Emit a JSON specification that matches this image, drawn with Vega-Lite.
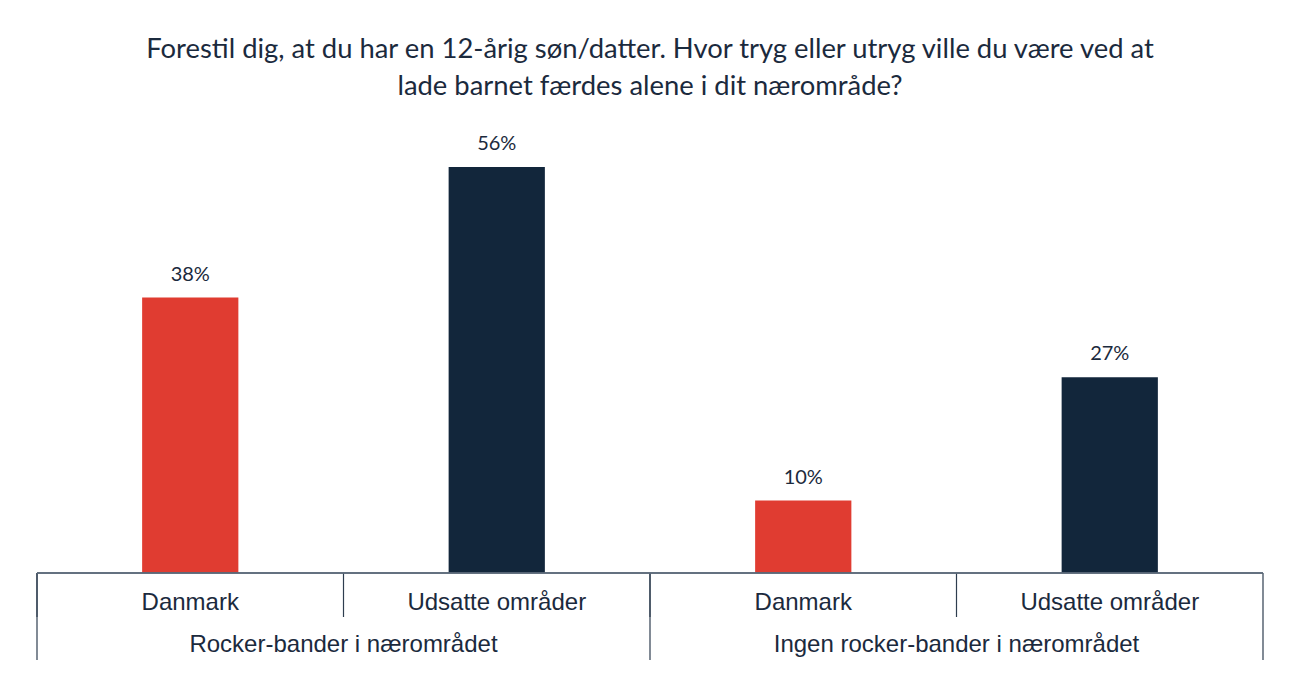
{
  "$schema": "https://vega.github.io/schema/vega-lite/v6.json",
  "autosize": "none",
  "width": 1226,
  "height": 522,
  "padding": {"left": 37, "top": 138, "right": 27, "bottom": 24},
  "background": "white",
  "config": {"view": {"stroke": null}},
  "title": {
    "text": ["Forestil dig, at du har en 12-årig søn/datter. Hvor tryg eller utryg ville du være ved at", "lade barnet færdes alene i dit nærområde?"],
    "font": "Lato",
    "fontSize": 27.4,
    "fontWeight": "normal",
    "color": "#1b2a3d",
    "anchor": "middle",
    "lineHeight": 37,
    "offset": 34
  },
  "data": {
    "values": [
      {"key": "1", "group": "Rocker-bander i nærområdet", "region": "Danmark", "value": 0.38},
      {"key": "2", "group": "Rocker-bander i nærområdet", "region": "Udsatte områder", "value": 0.56},
      {"key": "3", "group": "Ingen rocker-bander i nærområdet", "region": "Danmark", "value": 0.10},
      {"key": "4", "group": "Ingen rocker-bander i nærområdet", "region": "Udsatte områder", "value": 0.27}
    ]
  },
  "encoding": {
    "x": {"field": "key", "type": "nominal", "sort": null, "scale": {"paddingInner": 0, "paddingOuter": 0}, "axis": null}
  },
  "layer": [
    {
      "mark": {"type": "bar", "width": {"band": 0.314}},
      "encoding": {
        "y": {"field": "value", "type": "quantitative", "scale": {"domain": [-0.12, 0.60], "nice": false, "zero": false}, "axis": null},
        "color": {"field": "region", "type": "nominal", "scale": {"domain": ["Danmark", "Udsatte områder"], "range": ["#e03c31", "#12263b"]}, "legend": null}
      }
    },
    {
      "mark": {"type": "text", "font": "Lato", "fontSize": 20, "color": "#1b2a3d", "dy": -23, "baseline": "middle"},
      "encoding": {
        "y": {"field": "value", "type": "quantitative"},
        "text": {"field": "value", "type": "quantitative", "format": ".0%"}
      }
    },
    {
      "mark": {"type": "text", "font": "Liberation Sans", "fontSize": 24, "color": "#1b2a3d", "baseline": "middle"},
      "encoding": {
        "y": {"datum": -0.0414},
        "text": {"field": "region"}
      }
    },
    {
      "transform": [{"filter": "datum.region === 'Danmark'"}],
      "mark": {"type": "text", "font": "Liberation Sans", "fontSize": 24, "color": "#1b2a3d", "baseline": "middle"},
      "encoding": {
        "x": {"field": "key", "type": "nominal", "sort": null, "bandPosition": 1},
        "y": {"datum": -0.0993},
        "text": {"field": "group"}
      }
    },
    {
      "mark": {"type": "rule", "color": "#2e3d4f", "strokeWidth": 1.2},
      "encoding": {
        "x": {"field": "key", "type": "nominal", "sort": null, "bandPosition": 0},
        "y": {"datum": 0},
        "y2": {"datum": -0.0607}
      }
    },
    {
      "transform": [{"filter": "datum.region === 'Danmark'"}],
      "mark": {"type": "rule", "color": "#2e3d4f", "strokeWidth": 1.2},
      "encoding": {
        "x": {"field": "key", "type": "nominal", "sort": null, "bandPosition": 0},
        "y": {"datum": 0},
        "y2": {"datum": -0.12}
      }
    },
    {
      "transform": [{"filter": "datum.key === '4'"}],
      "mark": {"type": "rule", "color": "#2e3d4f", "strokeWidth": 1.2},
      "encoding": {
        "x": {"field": "key", "type": "nominal", "sort": null, "bandPosition": 1},
        "y": {"datum": 0},
        "y2": {"datum": -0.12}
      }
    },
    {
      "mark": {"type": "rule", "color": "#5a6878", "strokeWidth": 1.2},
      "encoding": {
        "x": null,
        "y": {"datum": 0}
      }
    }
  ]
}
